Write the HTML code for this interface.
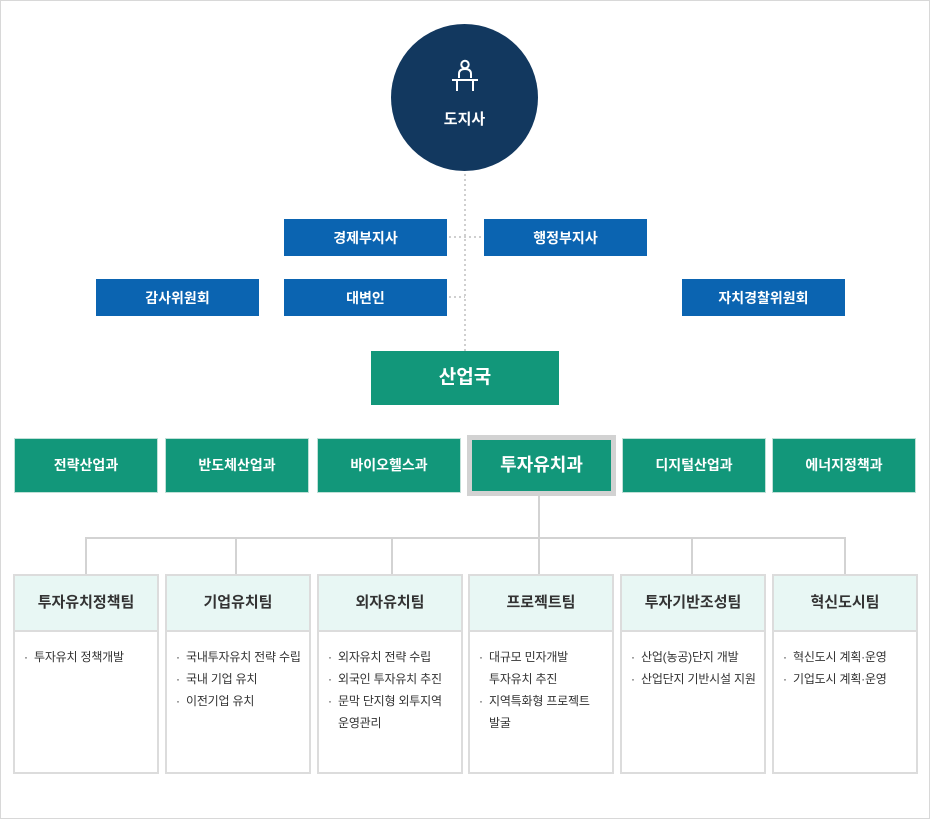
<!DOCTYPE html>
<html><head><meta charset="utf-8">
<style>
*{margin:0;padding:0;box-sizing:border-box}
html,body{width:930px;height:819px;background:#fff;overflow:hidden}
body{position:relative;font-family:"Liberation Sans","Noto Sans CJK KR",sans-serif}
.frame{position:absolute;left:0;top:0;width:930px;height:819px;border:1px solid #d8d8d8}
.circle{position:absolute;left:391px;top:24px;width:147px;height:147px;border-radius:50%;background:#12385f;color:#fff}
.circle .t{position:absolute;left:0;width:100%;text-align:center;font-size:15px;font-weight:bold;line-height:20px;top:86px}
.blue{position:absolute;background:#0b64b1;color:#fff;font-size:14px;font-weight:bold;text-align:center;line-height:39px;height:37px;width:163px}
.green{position:absolute;background:#12977a;color:#fff;font-weight:bold;text-align:center}
.dept{position:absolute;top:438px;height:55px;width:144px;background:#12977a;border:1px solid #bfe0d7;color:#fff;font-size:14px;font-weight:bold;text-align:center;line-height:53px}
.sel{position:absolute;left:467px;top:435px;width:149px;height:61px;background:#12977a;border:5px solid #d2d2d2;color:#fff;font-size:18px;font-weight:bold;text-align:center;line-height:50px}
.vd{position:absolute;width:2px;background:repeating-linear-gradient(to bottom,#cfcfcf 0 2px,transparent 2px 5px)}
.hd{position:absolute;height:2px;background:repeating-linear-gradient(to right,#cfcfcf 0 2px,transparent 2px 5px)}
.ln{position:absolute;background:#d3d3d3}
.team{position:absolute;top:574px;width:146px;height:200px;border:2px solid #dcdcdc;background:#fff}
.team .h{height:56px;background:#e8f7f4;border-bottom:2px solid #dcdcdc;text-align:center;line-height:54px;font-size:15px;font-weight:bold;color:#333}
.team ul{list-style:none;padding:14px 0 0 9px;font-size:12px;color:#333;line-height:22px}
.team li{position:relative;padding-left:10px;white-space:nowrap;letter-spacing:-0.2px}
.team li.b:before{content:"·";position:absolute;left:0;top:0}
</style></head><body>
<div class="frame"></div>

<!-- dotted connectors -->
<div class="vd" style="left:464px;top:174px;height:178px"></div>
<div class="hd" style="left:449px;top:236px;width:35px"></div>
<div class="hd" style="left:449px;top:296px;width:16px"></div>

<div class="circle">
<svg style="position:absolute;left:58px;top:34px" width="32" height="36" viewBox="0 0 32 36">
<circle cx="16" cy="6.5" r="3.7" fill="none" stroke="#fff" stroke-width="2"/>
<path d="M10 20 V16 Q10 11 16 11 Q22 11 22 16 V20" fill="none" stroke="#fff" stroke-width="2"/>
<line x1="3" y1="22" x2="29" y2="22" stroke="#fff" stroke-width="2"/>
<line x1="8" y1="22" x2="8" y2="33" stroke="#fff" stroke-width="2"/>
<line x1="24" y1="22" x2="24" y2="33" stroke="#fff" stroke-width="2"/>
</svg>
<div class="t">도지사</div>
</div>

<div class="blue" style="left:284px;top:219px">경제부지사</div>
<div class="blue" style="left:484px;top:219px">행정부지사</div>
<div class="blue" style="left:96px;top:279px">감사위원회</div>
<div class="blue" style="left:284px;top:279px">대변인</div>
<div class="blue" style="left:682px;top:279px">자치경찰위원회</div>

<div class="green" style="left:371px;top:351px;width:188px;height:54px;line-height:54px;font-size:19px">산업국</div>

<div class="dept" style="left:14px">전략산업과</div>
<div class="dept" style="left:165px">반도체산업과</div>
<div class="dept" style="left:317px">바이오헬스과</div>
<div class="sel">투자유치과</div>
<div class="dept" style="left:622px">디지털산업과</div>
<div class="dept" style="left:772px">에너지정책과</div>

<!-- solid connectors -->
<div class="ln" style="left:538px;top:496px;width:2px;height:42px"></div>
<div class="ln" style="left:85px;top:537px;width:761px;height:2px"></div>
<div class="ln" style="left:85px;top:537px;width:2px;height:37px"></div>
<div class="ln" style="left:235px;top:537px;width:2px;height:37px"></div>
<div class="ln" style="left:391px;top:537px;width:2px;height:37px"></div>
<div class="ln" style="left:538px;top:537px;width:2px;height:37px"></div>
<div class="ln" style="left:691px;top:537px;width:2px;height:37px"></div>
<div class="ln" style="left:844px;top:537px;width:2px;height:37px"></div>

<div class="team" style="left:13px"><div class="h">투자유치정책팀</div>
<ul><li class="b">투자유치 정책개발</li></ul></div>
<div class="team" style="left:165px"><div class="h">기업유치팀</div>
<ul><li class="b">국내투자유치 전략 수립</li><li class="b">국내 기업 유치</li><li class="b">이전기업 유치</li></ul></div>
<div class="team" style="left:317px"><div class="h">외자유치팀</div>
<ul><li class="b">외자유치 전략 수립</li><li class="b">외국인 투자유치 추진</li><li class="b">문막 단지형 외투지역</li><li>운영관리</li></ul></div>
<div class="team" style="left:468px"><div class="h">프로젝트팀</div>
<ul><li class="b">대규모 민자개발</li><li>투자유치 추진</li><li class="b">지역특화형 프로젝트</li><li>발굴</li></ul></div>
<div class="team" style="left:620px"><div class="h">투자기반조성팀</div>
<ul><li class="b">산업(농공)단지 개발</li><li class="b">산업단지 기반시설 지원</li></ul></div>
<div class="team" style="left:772px"><div class="h">혁신도시팀</div>
<ul><li class="b">혁신도시 계획·운영</li><li class="b">기업도시 계획·운영</li></ul></div>
</body></html>
